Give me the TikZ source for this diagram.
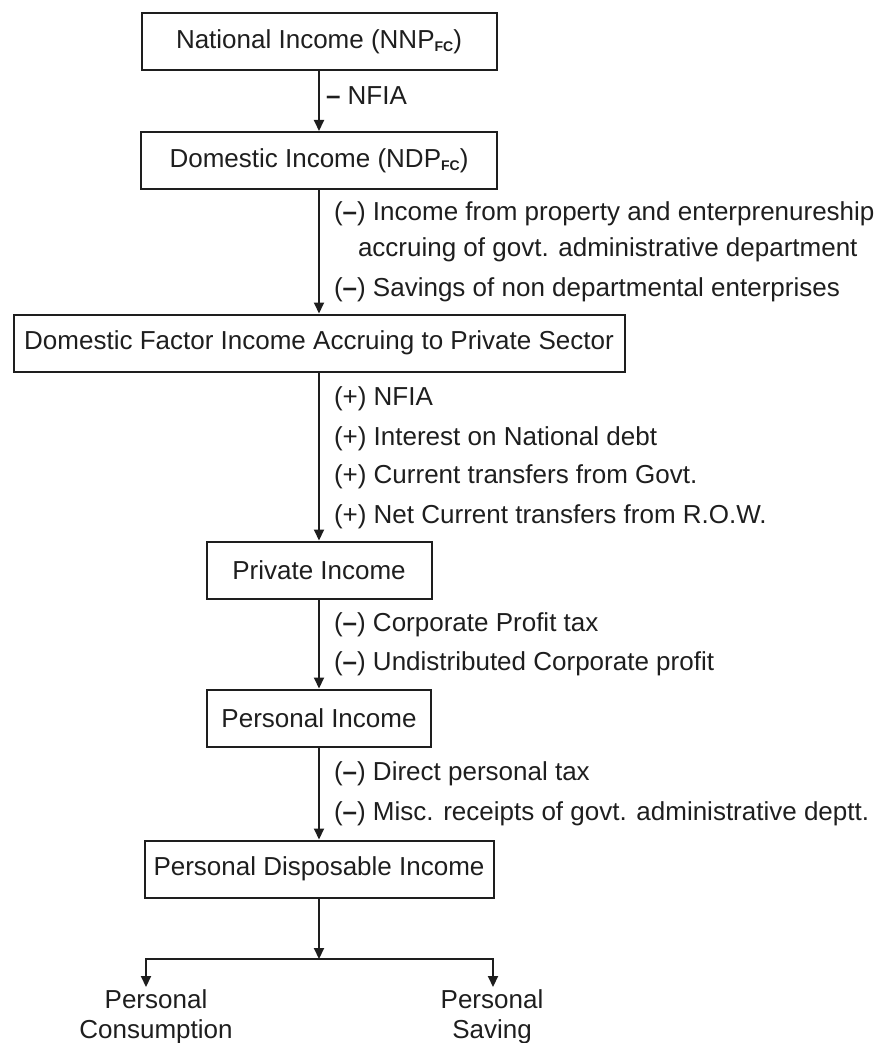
\documentclass[tikz,border=0pt]{standalone}
\usepackage{fontspec}
\setmainfont{Liberation Sans}
\usepackage{tikz}
\usetikzlibrary{arrows.meta}
\definecolor{FlowInk}{RGB}{30,30,30}
\newcommand{\fcsub}{\raisebox{-3pt}{\fontsize{14}{14}\selectfont\bfseries FC}}
\newcommand{\mn}{(\textbf{--})}

\begin{document}
\begin{tikzpicture}[x=1pt,y=-1pt,color=FlowInk,line width=2pt,font=\fontsize{26}{30}\selectfont,
  >={Triangle[length=11pt,width=10pt]},
  box/.style={draw,rectangle,minimum width=#1,minimum height=57pt,inner sep=0pt},
  lbl/.style={anchor=base west,inner sep=0pt}]
\useasboundingbox (0,0) rectangle (882,1043);
% income boxes
\node[box=355pt] (nnp) at (319,41.5) {National Income (NNP\fcsub)};
\node[box=356pt] (ndp) at (319,160.5) {Domestic Income (NDP\fcsub)};
\node[box=611pt] (dfi) at (319,343) {Domestic Factor Income Accruing to Private Sector};
\node[box=225pt] (pvt) at (319,570) {Private Income};
\node[box=224pt] (pers) at (319,718) {Personal Income};
\node[box=349pt] (pdi) at (319,869) {Personal Disposable Income};
\draw[->] (nnp) -- (ndp);
\draw[->] (ndp) -- (dfi);
\draw[->] (dfi) -- (pvt);
\draw[->] (pvt) -- (pers);
\draw[->] (pers) -- (pdi);
% adjustments
\node[lbl] (nfia) at (325,105) {\textbf{--} NFIA};
\foreach \x/\y/\txt [count=\i] in %
{333/220/{\mn{} Income from property and enterprenureship},
 357/256/{accruing of govt. administrative department},
 333/296/{\mn{} Savings of non departmental enterprises}} {
   \node[lbl] (dom\i) at (\x,\y) {\txt};
}
\foreach \y/\txt [count=\i] in %
{405/{(+) NFIA},445/{(+) Interest on National debt},
 483/{(+) Current transfers from Govt.},523/{(+) Net Current transfers from R.O.W.}} {
   \node[lbl] (add\i) at (333,\y) {\txt};
}
\foreach \y/\txt [count=\i] in %
{631/{\mn{} Corporate Profit tax},670/{\mn{} Undistributed Corporate profit}} {
   \node[lbl] (corp\i) at (333,\y) {\txt};
}
\foreach \y/\txt [count=\i] in %
{780/{\mn{} Direct personal tax},820/{\mn{} Misc. receipts of govt. administrative deptt.}} {
   \node[lbl] (tax\i) at (333,\y) {\txt};
}
% split of disposable income
\coordinate (forkL) at (146,959);
\coordinate (forkR) at (493,959);
\node[anchor=north,align=center,inner sep=2pt] (cons) at (156,987) {Personal\\Consumption};
\node[anchor=north,align=center,inner sep=2pt] (sav) at (492,987) {Personal\\Saving};
\draw[->] (pdi.south) -- (pdi.south |- forkL);
\draw[<->] (forkL |- cons.north) -- (forkL) -- (forkR) -- (forkR |- sav.north);
\end{tikzpicture}
\end{document}
